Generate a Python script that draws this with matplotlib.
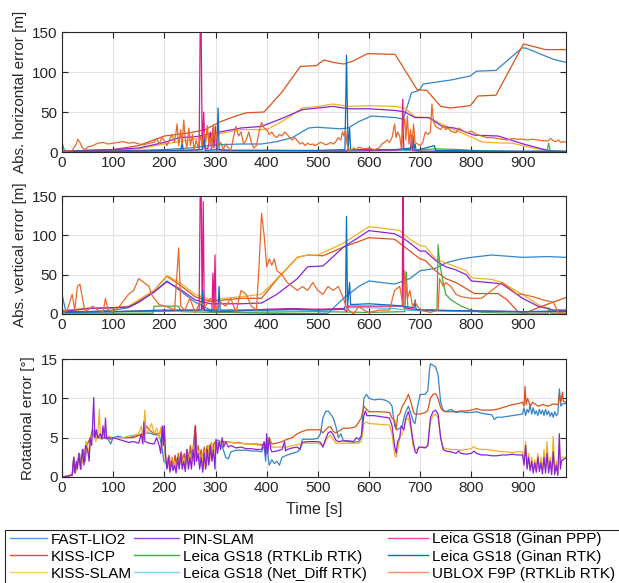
import numpy as np
import matplotlib
matplotlib.use("Agg")
import matplotlib.pyplot as plt
from matplotlib.patches import Rectangle
from matplotlib.lines import Line2D

plt.rcParams['font.family'] = ['Liberation Sans', 'DejaVu Sans']
plt.rcParams['font.size'] = 11

W, H = 619, 583

names = ["FAST-LIO2", "KISS-ICP", "KISS-SLAM", "PIN-SLAM",
         "Leica GS18 (RTKLib RTK)", "Leica GS18 (Net_Diff RTK)",
         "Leica GS18 (Ginan PPP)", "Leica GS18 (Ginan RTK)", "UBLOX F9P (RTKLib RTK)"]
colors = ["#3485c8", "#d95319", "#efb225", "#8c22d6", "#3fae3f", "#4dbfe6",
          "#db1a8c", "#0b6cc0", "#e8692a"]
legend_colors = ["#4d9be0", "#d95319", "#f5cd70", "#9a40e0", "#3fae3f", "#7fd3f5",
                 "#e84aa8", "#0b6cc0", "#f0935e"]

# ---------------- horizontal error (t, value) ----------------
h_fastlio = [(0,12),(5,1),(50,2),(100,2),(150,2),(200,3),(250,5),(300,9),(350,10),(390,10),(420,13),
             (450,18),(482,30),(497,31),(544,29),(559,30),(580,38),(605,45),(652,43),(667,41),(683,74),
             (698,77),(706,85),(760,90),(798,95),(810,101),(848,102),(899,130),(906,130),(960,116),(985,112)]
h_kissicp = [(0,0),(50,2),(100,3),(150,8),(200,20),(250,24),(280,28),(310,38),(340,45),(360,49),
             (395,50),(430,75),(466,107),(497,108),(512,115),(530,112),(551,110),(570,114),(597,123),
             (651,122),(694,78),(713,77),(740,57),(760,55),(798,58),(813,70),(848,71),(902,135),
             (945,128),(985,128)]
h_kissslam = [(0,0),(100,2),(150,4),(200,10),(250,15),(300,22),(350,28),(400,28),(430,38),(470,55),
              (500,57),(530,60),(560,57),(600,58),(650,57),(670,55),(690,44),(717,43),(760,29.5),
              (806,17),(821,12.6),(852,11.4),(880,11),(920,5),(960,1),(985,0.5)]
h_pinslam = [(0,1),(50,2),(100,3),(150,5),(200,12),(230,18),(260,19),(300,24),(350,30),(390,32),
             (430,42),(470,53),(500,55),(530,57),(560,54),(600,54),(650,52),(670,50),(690,43),(717,43),
             (744,31.6),(767,30),(806,21),(852,20),(899,10.5),(937,4),(960,0.5),(985,0.5)]
h_rtklib = [(0,0.5),(200,1),(300,0.5),(500,0.5),(690,2),(730,4),(780,3),(800,2),(850,1),(900,0.5),
            (948,1),(951,11),(954,2),(985,0.5)]
h_netdiff = [(0,0.5),(100,0.5),(300,1),(500,1),(560,2),(650,2.5),(700,1),(985,0.5)]
h_ginanppp = [(0,1),(50,1.5),(100,1),(150,1.5),(200,2),(250,2),(268,3),(270,150),(272,150),(274,3),
              (277,50),(279,5),(285,4),(290,25),(292,3),(295,30),(297,5),(300,32),(302,3),(320,2),
              (400,2),(500,1.5),(556,1),(560,3),(600,2),(650,2.5),(664,3),(666,66),(668,3),(681,3),
              (683,21),(685,2),(700,1),(800,0.5),(985,0.5)]
h_ginanrtk = [(0,1),(100,1),(200,1.5),(232,2),(235,12),(237,2),(275,3),(278,20),(280,2),(303,3),
              (305,55),(307,3),(330,2),(400,2),(500,2),(553,3),(556,121),(559,3),(562,30),(564,3),
              (600,3),(650,3),(684,5),(686,20),(688,3),(690,10),(692,2),(728,8),(730,2),(800,1.5),
              (900,1),(985,1)]
h_ublox = [(0,2),(5,0),(10,1),(20,2),(28,10),(31,16),(35,12),(40,5),(45,3),(50,6),(60,8),(70,11),
           (80,12),(90,10),(100,11),(110,12),(120,13),(130,11),(140,12),(150,10),(160,9),(170,11),
           (180,12),(185,17),(190,10),(195,18),(200,14),(205,8),(210,15),(215,22),(220,12),(225,35),
           (228,8),(232,28),(235,10),(238,40),(241,15),(244,5),(248,30),(251,8),(255,22),(258,2),
           (262,15),(266,5),(270,20),(274,8),(278,25),(281,12),(284,33),(287,10),(290,18),(293,5),
           (296,34),(299,15),(302,25),(305,8),(310,12),(315,3),(320,10),(325,5),(330,2),(335,18),
           (340,32),(345,20),(350,25),(355,10),(360,15),(365,25),(370,12),(375,5),(380,8),(385,25),
           (390,37),(395,30),(400,28),(405,22),(410,25),(415,20),(420,18),(425,22),(430,20),(435,25),
           (440,22),(445,18),(450,15),(455,18),(460,14),(465,10),(470,12),(475,8),(480,11),(485,9),
           (490,10),(495,8),(500,10),(505,12),(510,11),(515,9),(520,10),(525,12),(530,10),(535,13),
           (540,18),(545,15),(548,25),(551,20),(554,28),(557,10),(560,4),(565,2),(570,5),(575,3),
           (580,6),(590,4),(600,5),(610,3),(620,5),(625,10),(630,12),(635,15),(640,12),(645,18),
           (650,35),(653,18),(656,25),(660,20),(663,5),(667,30),(670,42),(672,15),(675,45),(678,10),
           (681,28),(684,8),(687,35),(690,12),(695,10),(700,8),(705,12),(710,25),(715,22),(720,25),
           (723,60),(726,38),(730,32),(735,30),(740,28),(745,33),(750,28),(755,30),(760,26),(765,25),
           (770,24),(775,30),(780,28),(785,26),(790,24),(800,26),(810,22),(820,20),(830,18),(840,18),
           (850,17),(860,16),(870,15),(880,17),(890,16),(900,16),(910,15),(920,16),(930,15),(940,14),
           (950,14),(955,17),(960,14),(965,13),(970,15),(975,12),(980,13),(985,12)]

# ---------------- vertical error ----------------
v_fastlio = [(0,25),(8,2),(50,3),(100,5),(130,8),(150,15),(180,28),(205,42),(230,30),(260,15),
             (290,5),(300,3),(330,2),(400,1),(450,0.5),(500,0.5),(520,1),(550,20),(580,35),(600,42),
             (650,38),(680,45),(700,55),(730,58),(750,65),(780,70),(800,72),(840,75),(900,72),
             (950,73),(985,72)]
v_kissicp = [(0,4),(50,7),(100,8),(130,9),(150,17),(180,30),(205,48),(230,37),(260,22),(290,16),
             (320,18),(350,20),(390,20),(420,44),(460,72),(480,75),(510,74),(550,85),(600,97),
             (650,95),(670,85),(700,70),(710,68),(730,55),(750,45),(770,40),(806,26),(852,26),
             (870,18),(891,3),(905,1),(930,8),(960,15),(985,21)]
v_kissslam = [(0,5),(30,5),(50,7),(100,8),(130,10),(150,18),(180,30),(205,49),(230,40),(260,25),
              (290,18),(320,20),(350,22),(390,25),(420,45),(460,72),(480,75),(500,75),(550,90),
              (600,111),(640,108),(660,106),(680,95),(700,87),(710,86),(730,70),(750,65),(770,60),
              (790,55),(800,46),(840,44),(860,40),(900,25),(930,12),(960,5),(985,4)]
v_pinslam = [(0,3),(50,7),(100,8),(130,9),(150,15),(180,28),(205,41),(230,32),(260,18),(290,13),
             (320,13),(350,13),(390,14),(420,25),(460,45),(480,60),(510,61),(550,85),(600,106),
             (650,102),(670,95),(700,80),(710,80),(730,68),(750,60),(770,56),(790,50),(800,42),
             (850,39),(860,38),(900,20),(930,10),(960,5),(985,5)]
v_rtklib = [(0,1),(100,1),(178,1),(180,10),(228,10),(232,3),(300,2),(500,3),(600,2),(670,3),
            (673,53),(676,5),(733,5),(735,88),(738,65),(745,40),(750,25),(760,18),(780,10),(800,5),
            (820,2),(900,1),(950,1),(952,8),(955,1),(985,1)]
v_netdiff = [(0,3),(100,3),(300,4),(400,5),(500,5),(550,6),(560,8),(600,8),(650,7),(660,6),
             (700,4),(800,3),(985,3)]
v_ginanppp = [(0,3),(100,3),(200,4),(268,5),(270,150),(272,150),(274,5),(276,143),(278,5),(293,3),
              (295,52),(297,3),(299,75),(301,3),(320,3),(400,6),(450,7),(500,6),(550,7),(556,3),
              (560,10),(600,10),(650,10),(665,10),(666,150),(667,150),(668,8),(700,5),(800,4),
              (900,3),(985,3)]
v_ginanrtk = [(0,2),(100,3),(200,5),(272,5),(275,30),(277,5),(305,5),(307,35),(309,5),(400,5),
              (450,6),(500,5),(550,6),(554,10),(556,124),(558,10),(562,40),(564,12),(600,13),
              (650,11),(688,8),(690,18),(692,6),(700,5),(800,4),(900,3),(985,4)]
v_ublox = [(0,0),(10,5),(20,25),(25,5),(30,35),(35,38),(40,20),(45,3),(50,5),(60,10),(70,5),(80,2),
           (85,20),(90,5),(100,3),(110,8),(130,25),(140,30),(150,45),(160,40),(170,35),(175,25),
           (180,20),(190,12),(200,10),(210,8),(220,5),(228,84),(232,10),(240,5),(250,20),(260,2),
           (270,15),(280,10),(290,20),(300,5),(310,15),(320,10),(330,20),(340,2),(350,30),(360,25),
           (370,10),(380,5),(385,60),(390,128),(395,100),(400,60),(405,70),(410,62),(415,70),(420,55),
           (430,50),(440,40),(450,35),(460,30),(470,35),(480,30),(490,40),(500,30),(510,25),(520,35),
           (530,30),(540,35),(550,20),(555,10),(560,5),(570,0),(580,10),(590,5),(600,2),(620,5),
           (640,5),(650,30),(660,35),(667,10),(670,55),(675,20),(680,30),(685,10),(690,15),(700,5),
           (720,2),(735,5),(738,45),(745,35),(750,40),(760,35),(770,25),(780,22),(800,20),(820,20),
           (840,30),(860,40),(870,35),(880,30),(890,25),(900,25),(920,22),(940,18),(960,15),(970,2),
           (985,0)]

# ---------------- rotational error ----------------
r_fastlio = [(0,0),(20,0.2),(23,2.5),(26,0.6),(30,1.8),(34,3),(37,1),(41,3.5),(45,2),(48,4),(52,4.5),
             (56,5),(60,6),(63,5.5),(66,5),(70,5),(80,5),(90,4.8),(95,4.2),(100,5),(110,5.2),(120,5),
             (130,5),(140,5.2),(150,5.3),(160,5.5),(170,5.6),(180,5.4),(190,5.3),(195,4),(199,2),
             (203,1.8),(206,1.5),(209,2.5),(212,1.2),(215,2.2),(218,1),(221,2.6),(224,1.4),(227,2.8),
             (230,1.6),(233,3),(236,1.8),(239,2.8),(242,1.6),(245,3.3),(248,1.8),(251,3.5),(254,2),
             (257,3.6),(260,6),(263,2.8),(266,3.6),(269,2),(272,3.2),(275,1.8),(278,3.6),(281,2.2),
             (284,3.8),(287,2.8),(290,4),(293,2.8),(296,4),(300,4.5),(305,4.7),(310,4.5),(315,3.5),
             (320,2.5),(325,2.3),(330,3.2),(340,3.4),(350,3.4),(360,3.4),(370,3.3),(380,3.3),(390,3.2),
             (395,4),(398,2),(400,5),(403,2.5),(405,1.5),(410,2.2),(415,1.7),(420,2),(425,1.5),(430,2.5),
             (440,2.8),(450,3),(460,3.2),(465,3.5),(470,4.8),(480,4.8),(490,4.8),(500,4.9),(505,5.5),
             (510,7.5),(515,8.3),(520,8.4),(525,8),(530,7.5),(535,6.5),(540,5),(545,5.5),(550,4.6),
             (560,4.5),(570,4.4),(580,4.5),(585,5),(590,10),(595,10.5),(600,10),(610,9.8),(620,9.9),
             (630,9.8),(640,9.5),(645,9),(650,6.5),(655,6),(660,6.2),(665,6.5),(670,8),(677,9),(682,8),
             (687,7),(690,6.8),(695,9),(700,10.5),(710,10.5),(715,11),(718,13.5),(720,14.4),(725,14.2),
             (730,14),(735,13),(740,9.5),(745,8.5),(750,8.3),(760,8.6),(770,8.2),(780,8.3),(790,8.2),
             (800,8.2),(810,8.3),(820,8.1),(830,8),(840,7.9),(845,7.3),(850,7.6),(860,7.6),(870,7.7),
             (880,7.8),(890,7.9),(900,8),(903,8.8),(906,7.8),(909,8.6),(912,8.2),(915,9.2),(918,8),
             (921,8.8),(924,8),(927,8.4),(930,7.8),(933,8.6),(936,8),(939,8.5),(942,7.8),(945,8.6),
             (948,7.9),(951,8.4),(954,7.7),(957,8.2),(960,7.6),(963,8.3),(966,7.8),(969,8),(972,11.2),
             (975,9),(978,9.3),(982,9.3),(985,9.4)]
r_kissicp = [(0,0),(20,0.2),(23,2.5),(26,0.6),(30,1.5),(34,3),(37,1),(41,3.5),(45,2),(48,4),(52,4.5),
             (56,5),(60,6),(63,5),(66,5.5),(70,5),(80,5),(90,5),(100,5),(110,5),(120,5),(130,5),(140,5),
             (150,5.3),(160,5.5),(165,6.5),(170,6),(180,5.5),(190,5.5),(195,6),(200,5.5),(203,2),
             (206,1.2),(209,2.8),(212,1.5),(215,2.5),(218,1.2),(221,2.8),(224,1.5),(227,3),(230,1.8),
             (233,3.2),(236,2),(239,3),(242,2.2),(245,3.5),(248,2),(251,4),(254,2.5),(257,3.8),(260,6.5),
             (263,3),(266,4),(269,2.5),(272,3.5),(275,2),(278,3.8),(281,2.5),(284,4),(287,3),(290,4.2),
             (293,3),(296,4.2),(300,4.5),(305,4.3),(310,4.5),(320,4.5),(330,4.4),(340,4.3),(345,4.4),
             (350,4.3),(360,4.2),(370,4.2),(380,4.2),(390,4.1),(400,4.2),(405,5),(410,4.2),(420,4.3),
             (430,4.5),(440,4.8),(450,5),(460,5.5),(470,5.8),(480,6),(490,6),(500,6),(505,6),(510,5.6),
             (515,6),(520,6.3),(525,6.4),(530,5.8),(535,5.6),(540,5.8),(550,6.2),(560,6.2),(570,6.3),
             (575,6.5),(580,7),(585,7.5),(590,9),(595,8.6),(600,8.3),(620,8.3),(640,8.2),(645,7.5),
             (650,7.2),(653,6),(656,7.8),(660,8),(665,9),(670,9.5),(677,10.5),(682,9.5),(687,8.2),
             (690,8),(700,8),(710,8.2),(715,8.5),(720,10),(725,10.5),(730,10.6),(735,10),(740,8.8),
             (745,8.4),(750,8.3),(760,8.3),(770,8.3),(780,8.4),(790,8.4),(800,8.5),(810,8.7),(820,8.5),
             (830,8.5),(840,8.5),(850,8.6),(860,8.8),(870,9),(880,9.2),(890,9.3),(900,9.5),(903,9),
             (905,11.5),(907,9.2),(910,10),(915,9),(920,9.5),(930,9),(940,9.2),(950,9),(960,9.3),
             (970,9.2),(972,10.5),(975,9.5),(978,10.8),(980,9.6),(985,9.5)]
r_kissslam = [(0,0),(20,0.3),(23,2),(26,0.5),(30,1.5),(33,3),(37,1),(40,3),(44,2),(47,4.5),(50,4),
              (53,2.5),(56,5),(60,5.5),(63,6),(66,4.5),(70,5.5),(73,8.6),(75,5),(80,5.5),(85,5.2),
              (90,5.2),(100,5),(110,5),(120,5),(130,5.2),(140,5.3),(150,5.5),(155,6.5),(158,5),
              (162,8.5),(164,5.5),(170,6),(175,6.8),(180,5.5),(185,6.2),(190,5),(193,6.3),(196,4),
              (199,6.5),(202,2),(205,1.5),(208,2.5),(211,1),(214,2.5),(217,1),(220,2),(223,0.8),
              (226,2.8),(229,1.2),(232,3),(235,1.5),(238,2.5),(241,1),(244,3.5),(247,1.5),(250,3),
              (253,1.5),(256,4),(259,2),(262,5.5),(265,2.5),(268,3.5),(271,1.5),(274,3),(277,1),
              (280,3.5),(283,1.5),(286,4),(289,2),(292,4.5),(295,2.5),(298,4),(301,4.5),(305,4),
              (310,4.5),(315,4.3),(320,4.5),(330,4.4),(340,4.3),(350,4.3),(360,4.2),(370,4.2),(380,4.1),
              (390,4),(400,4),(405,5),(410,3.8),(420,3.8),(430,3.8),(440,3.8),(450,4),(460,4.1),
              (470,4.3),(480,4.3),(490,4.3),(500,4.3),(510,4),(515,4.5),(520,5.1),(525,5.3),(530,4.8),
              (535,4.3),(540,4.3),(560,4.3),(570,4.3),(580,4.3),(585,4.5),(590,6.8),(595,7),(600,6.8),
              (620,6.7),(640,6.6),(645,5.5),(650,2.8),(653,2.5),(656,3.5),(660,5),(665,5.5),(672,7.2),
              (677,7.5),(682,6),(686,4),(690,3.5),(695,3.5),(700,3.8),(710,3.8),(715,4),(720,7),
              (725,7.8),(730,8),(735,7.5),(740,5),(745,3.7),(750,3.6),(760,3.5),(770,3.5),(780,3.4),
              (790,3.5),(800,3.6),(805,3.9),(810,3.6),(820,3.5),(830,3.5),(840,3.4),(850,3.3),(860,3.2),
              (870,3.2),(880,3.1),(890,3.2),(900,3.2),(903,2),(906,4.5),(909,1.5),(912,3),(915,1),
              (918,2.5),(921,0.8),(924,2.2),(927,1),(930,3),(933,1),(936,2.5),(939,0.8),(942,3.5),
              (945,1),(948,4.5),(951,1),(954,2.5),(957,0.7),(960,5.2),(963,0.8),(966,2),(969,0.5),
              (972,4.5),(974,1.5),(977,2.5),(980,2.5),(985,2.5)]
r_pinslam = [(0,0),(10,0.1),(20,0.3),(23,2.5),(25,0.5),(28,2),(30,1),(33,3),(36,1),(40,3.5),(43,1.5),
             (46,4),(50,3.5),(53,2),(55,5),(58,4),(60,7),(62,10.1),(64,5),(67,6),(70,5),(75,5.5),
             (78,4.8),(80,6.5),(83,5),(85,7.5),(87,5),(90,5),(95,4.8),(100,5),(110,4.8),(120,4.6),
             (130,4.4),(140,4.5),(150,4.3),(155,5.5),(158,4.2),(160,7),(162,4.5),(170,4.3),(180,4.2),
             (185,5),(190,4),(193,3),(196,6.5),(198,4),(200,6.5),(202,3),(205,1),(208,2.5),(211,0.6),
             (214,2),(217,0.8),(220,1.5),(223,0.5),(226,2.5),(229,1),(232,3),(235,1),(238,2),(241,0.7),
             (244,3.5),(247,1),(250,2.5),(253,1),(256,3.5),(259,1.5),(261,6.5),(263,2),(266,3),(269,1),
             (272,2.5),(275,0.6),(278,3),(281,1),(284,3.5),(287,1.5),(290,4),(293,2),(296,3.5),(299,1),
             (301,4.8),(304,3),(307,4.5),(310,3.5),(313,5),(316,3.8),(320,4.5),(325,3.8),(330,4),
             (340,3.7),(350,3.8),(360,3.6),(370,3.6),(380,3.5),(390,3.5),(395,4.5),(398,2.8),(400,5.5),
             (402,3),(405,5),(408,3.5),(410,3.2),(420,3.3),(430,3.5),(435,4.5),(437,3.3),(440,3.5),
             (450,3.7),(460,3.8),(465,3.5),(470,4.4),(480,4.5),(490,4.5),(500,4.5),(505,4.4),(510,3.8),
             (515,4.8),(520,5.6),(525,5.8),(530,5.4),(535,4.7),(540,4.5),(550,4.6),(560,4.6),(570,4.5),
             (575,5),(580,4.8),(585,5.2),(590,7.8),(593,8.4),(596,7.8),(600,7.8),(610,7.8),(620,7.7),
             (630,7.6),(640,7.5),(645,6.5),(650,4),(653,3),(656,4.5),(660,5),(663,6.5),(668,6),(672,7.5),
             (677,8.3),(680,7.5),(685,5),(690,3.2),(693,3),(697,3.8),(700,3.8),(710,3.7),(715,4),
             (720,7.5),(725,8.3),(730,8.5),(735,8),(740,5),(745,3.5),(750,3.3),(760,3.2),(770,3),
             (775,3.3),(780,3),(790,2.9),(800,3),(805,3.3),(810,3),(820,2.8),(830,2.8),(840,2.7),
             (850,2.7),(860,2.8),(870,2.8),(880,2.9),(890,2.8),(900,2.8),(903,1.5),(906,4),(909,1),
             (912,2.5),(915,0.8),(918,2),(921,0.5),(924,1.8),(927,0.6),(930,2.5),(933,0.7),(936,1.8),
             (939,0.4),(942,2.5),(945,0.5),(948,3),(951,0.5),(954,2),(957,0.3),(960,3.2),(963,0.3),
             (966,1.5),(969,0.2),(972,5.5),(974,1),(976,2),(979,2.2),(982,2.3),(985,2.4)]

horizontal = [h_fastlio, h_kissicp, h_kissslam, h_pinslam, h_rtklib, h_netdiff, h_ginanppp, h_ginanrtk, h_ublox]
vertical = [v_fastlio, v_kissicp, v_kissslam, v_pinslam, v_rtklib, v_netdiff, v_ginanppp, v_ginanrtk, v_ublox]
rotational = [r_fastlio, r_kissicp, r_kissslam, r_pinslam]

x_ticks = list(range(0, 1000, 100))
pos_ticks = [0, 50, 100, 150]
rot_ticks = [0, 5, 10, 15]
x_max = 985

fig = plt.figure(figsize=(W / 100, H / 100), dpi=100)

def add_ax(left, top, right, bottom):
    return fig.add_axes([left / W, 1 - bottom / H, (right - left) / W, (bottom - top) / H])

ax1 = add_ax(62, 32, 566, 152)
ax2 = add_ax(62, 196, 566, 314)
ax3 = add_ax(62, 359, 566, 477)

def style(ax, yticks, ylabel):
    ax.set_xlim(0, x_max)
    ax.set_ylim(yticks[0], yticks[-1])
    ax.set_xticks(x_ticks)
    ax.set_yticks(yticks)
    ax.grid(True, color="#e3e3e3", lw=0.8)
    ax.set_axisbelow(True)
    ax.tick_params(direction="in", top=True, right=True, length=4, width=0.8,
                   colors="#262626", labelsize=11, pad=3)
    for s in ax.spines.values():
        s.set_color("#262626")
        s.set_linewidth(0.8)
    ax.set_ylabel(ylabel, fontsize=11, color="#262626", labelpad=4)

for data, col in zip(horizontal, colors):
    t, v = zip(*data)
    ax1.plot(t, v, color=col, lw=0.9)
for data, col in zip(vertical, colors):
    t, v = zip(*data)
    ax2.plot(t, v, color=col, lw=0.9)
for data, col in zip(rotational, colors[:4]):
    t, v = zip(*data)
    ax3.plot(t, v, color=col, lw=0.9)

style(ax1, pos_ticks, "Abs. horizontal error [m]")
style(ax2, pos_ticks, "Abs. vertical error [m]")
style(ax3, rot_ticks, "Rotational error [°]")
ax3.set_xlabel("Time [s]", fontsize=11.5, color="#262626", labelpad=5)

# legend frame
fig.patches.append(Rectangle((5 / W, -0.01), 1.0, (H - 530) / H + 0.01,
                             transform=fig.transFigure, fill=False, ec="#262626", lw=0.8,
                             clip_on=False))
LFS = 11.0
fpx = LFS * 100 / 72
legend_cols = [(51, 37, [0, 1, 2]), (183, 45, [3, 4, 5]), (432, 40, [6, 7, 8])]
for text_x, hlen, g in legend_cols:
    pad = 4
    cx = text_x - pad - hlen
    handles = [Line2D([], [], color=legend_colors[i], lw=1.0) for i in g]
    fig.legend(handles, [names[i] for i in g], loc="upper left",
               bbox_to_anchor=(cx / W, 1 - 532.5 / H), frameon=False, fontsize=LFS,
               handlelength=hlen / fpx, handletextpad=pad / fpx, labelspacing=0.2,
               borderpad=0, borderaxespad=0)

fig.savefig("out.png", dpi=100)
